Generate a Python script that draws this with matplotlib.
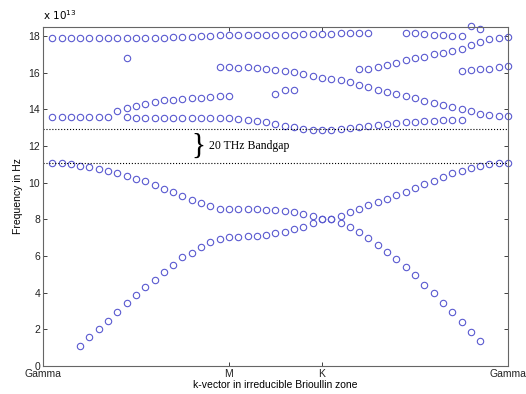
import matplotlib
matplotlib.use("Agg")
import matplotlib.pyplot as plt

# band data: k-point index along Gamma-M-K-Gamma path, frequency in 1e13 Hz
k_acoustic = list(range(4, 48))
f_acoustic = [1.09, 1.57, 2.00, 2.47, 2.95, 3.42, 3.86, 4.29, 4.69, 5.13, 5.50,
              5.93, 6.18, 6.51, 6.76, 6.95, 7.02, 7.05, 7.07, 7.10, 7.15, 7.24,
              7.33, 7.46, 7.60, 7.78, 8.02, 8.02, 7.80, 7.57, 7.29, 7.00, 6.58,
              6.22, 5.85, 5.40, 4.95, 4.44, 3.97, 3.46, 2.95, 2.40, 1.85, 1.35]

k_band2 = list(range(1, 51))
f_band2 = [11.06, 11.06, 11.02, 10.91, 10.84, 10.73, 10.62, 10.51, 10.37, 10.22,
           10.08, 9.86, 9.64, 9.49, 9.27, 9.06, 8.91, 8.73, 8.58, 8.56,
           8.56, 8.55, 8.55, 8.53, 8.51, 8.47, 8.38, 8.31, 8.20, 8.02,
           8.02, 8.17, 8.38, 8.56, 8.77, 8.95, 9.13, 9.31, 9.49, 9.71,
           9.93, 10.11, 10.33, 10.51, 10.65, 10.80, 10.91, 11.02, 11.06, 11.06]

k_band3 = list(range(1, 21))
f_band3 = [13.60, 13.60, 13.60, 13.60, 13.60, 13.60, 13.60, 13.91, 14.09, 14.20,
           14.31, 14.42, 14.49, 14.53, 14.57, 14.60, 14.64, 14.68, 14.71, 14.73]

k_band4 = list(range(9, 46))
f_band4 = [13.57, 13.55, 13.53, 13.53, 13.53, 13.53, 13.53, 13.53, 13.53, 13.53,
           13.53, 13.52, 13.50, 13.45, 13.38, 13.30, 13.20, 13.10, 13.02, 12.95,
           12.90, 12.89, 12.90, 12.92, 12.97, 13.04, 13.07, 13.15, 13.22, 13.26,
           13.29, 13.33, 13.37, 13.37, 13.40, 13.40, 13.44]

k_band5 = list(range(19, 51))
f_band5 = [16.29, 16.29, 16.27, 16.29, 16.25, 16.21, 16.17, 16.09, 16.02, 15.91,
           15.84, 15.73, 15.66, 15.59, 15.48, 15.33, 15.22, 15.07, 14.97, 14.82,
           14.71, 14.60, 14.46, 14.35, 14.24, 14.13, 14.02, 13.91, 13.76, 13.69,
           13.66, 13.66]

k_band6 = list(range(34, 51))
f_band6 = [16.20, 16.20, 16.33, 16.40, 16.55, 16.69, 16.82, 16.88, 17.00, 17.09,
           17.20, 17.31, 17.53, 17.68, 17.86, 17.91, 17.97]

k_band7 = list(range(45, 51))
f_band7 = [16.09, 16.17, 16.20, 16.20, 16.29, 16.35]

k_top = list(range(1, 36)) + list(range(39, 48))
f_top = [17.90, 17.90, 17.90, 17.90, 17.90, 17.90, 17.90, 17.90, 17.90, 17.91,
         17.91, 17.92, 17.92, 17.93, 17.95, 17.97, 17.99, 18.02, 18.04, 18.06,
         18.07, 18.08, 18.08, 18.08, 18.09, 18.09, 18.09, 18.10, 18.10, 18.10,
         18.11, 18.15, 18.15, 18.15, 18.15,
         18.18, 18.15, 18.10, 18.06, 18.04, 18.00, 18.00, 18.55, 18.37]

k_extra = [9, 25, 26, 27]
f_extra = [16.80, 14.82, 15.07, 15.07]

tick_pos = [0, 20, 30, 50]
tick_labels = ["Gamma", "M", "K", "Gamma"]
gap_top = 12.96
gap_bottom = 11.09

fig = plt.figure(figsize=(5.26, 3.94), dpi=100)
ax = fig.add_axes([0.0817, 0.0711, 0.8841, 0.8604])

bands = [(k_acoustic, f_acoustic), (k_band2, f_band2), (k_band3, f_band3),
         (k_band4, f_band4), (k_band5, f_band5), (k_band6, f_band6),
         (k_band7, f_band7), (k_top, f_top), (k_extra, f_extra)]
for k, f in bands:
    ax.plot(k, f, 'o', ms=4.6, mfc='none', mec='#5a5ad0', mew=0.8, clip_on=False)

ax.axhline(gap_top, color='k', ls=':', lw=0.8)
ax.axhline(gap_bottom, color='k', ls=':', lw=0.8)

ax.text(16.0, (gap_top + gap_bottom) / 2, "}", family='Liberation Serif',
        fontsize=21, va='center', ha='left', fontweight='light')
ax.text(17.9, (gap_top + gap_bottom) / 2, "20 THz Bandgap", family='Liberation Serif',
        fontsize=8.5, va='center', ha='left')

ax.set_xlim(0, 50)
ax.set_ylim(0, 18.5)
ax.set_xticks(tick_pos)
ax.set_xticklabels(tick_labels)
ax.set_yticks(range(0, 19, 2))
ax.tick_params(direction='in', length=3, width=0.6, labelsize=7.5, colors='#222222',
               top=True, right=True, pad=2)
for s in ax.spines.values():
    s.set_color('#666666')
    s.set_linewidth(0.8)

ax.set_xlabel("k-vector in irreducible Brioullin zone", fontsize=7.5, labelpad=1)
ax.set_ylabel("Frequency in Hz", fontsize=7.5, labelpad=4)
ax.text(0, 1.015, r"x 10$^{13}$", transform=ax.transAxes, fontsize=7.5,
        ha='left', va='bottom')

plt.rcParams['font.family'] = ['Liberation Sans', 'DejaVu Sans']
for lbl in ax.get_xticklabels() + ax.get_yticklabels():
    lbl.set_family('Liberation Sans')
ax.xaxis.label.set_family('Liberation Sans')
ax.yaxis.label.set_family('Liberation Sans')

fig.savefig("out.png", dpi=100)
